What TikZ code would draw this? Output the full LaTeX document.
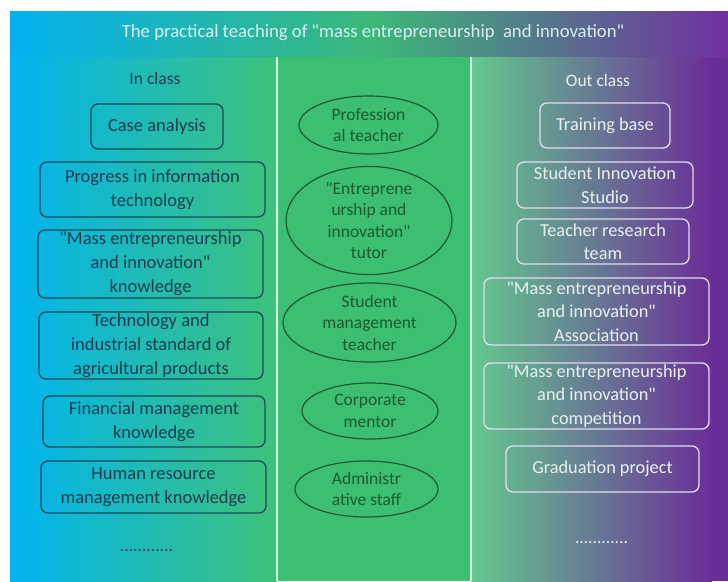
\documentclass[tikz,border=0pt]{standalone}
\usepackage{fontspec}
\setmainfont{Carlito}[Ligatures=TeXOff]
\usetikzlibrary{shapes.geometric}

\definecolor{bandblue}{HTML}{00B2F0}
\definecolor{bandgreen}{HTML}{3CB878}
\definecolor{bandpurple}{HTML}{7030A0}
\definecolor{colblue}{HTML}{00B4F0}
\definecolor{colgreen}{HTML}{3EC27A}
\definecolor{midgreen}{HTML}{3CBF72}
\definecolor{rgreen}{HTML}{64C98E}
\definecolor{rpurple}{HTML}{6A2D98}
\definecolor{divline}{HTML}{DDF5E6}
\definecolor{intext}{HTML}{1C3D50}
\definecolor{inborder}{HTML}{1F4858}
\definecolor{elltext}{HTML}{1E5A2C}
\definecolor{outtext}{HTML}{E8F0F2}
\definecolor{outborder}{HTML}{E2DCF0}
\definecolor{titletxt}{HTML}{D8EEF2}

\tikzset{
  headtext/.style={font=\fontsize{17.5}{21}\selectfont, inner sep=0pt},
  dotrow/.style={font=\fontsize{17.5}{21}\selectfont, inner sep=0pt, anchor=base},
  inbox/.style={draw=inborder, line width=1.3pt, rounded corners=7pt,
    text=intext, font=\fontsize{18.5}{24}\selectfont, align=center, inner sep=0pt},
  outbox/.style={draw=outborder, line width=1.3pt, rounded corners=7pt,
    text=outtext, font=\fontsize{18.3}{23.5}\selectfont, align=center, inner sep=0pt},
  rolebox/.style={ellipse, draw=elltext, line width=1.2pt,
    text=elltext, font=\fontsize{17.5}{21.5}\selectfont, align=center, inner sep=0pt},
}

\begin{document}
\begin{tikzpicture}[x=1pt,y=-1pt]
\useasboundingbox (0,0) rectangle (728,581);
\fill[white] (0,0) rectangle (728,581);

% title band
\shade[left color=bandblue, right color=bandgreen] (10,11) rectangle (372,57);
\shade[left color=bandgreen, right color=bandpurple] (371.5,11) rectangle (728,57);

% three columns
\shade[left color=colblue, right color=colgreen] (10,57) rectangle (277,581);
\fill[midgreen] (277,57) rectangle (471,581);
\shade[left color=rgreen, right color=rpurple] (471,57) rectangle (712,581);
\fill[rpurple] (711.5,57) rectangle (728,581);
\draw[divline, line width=1.8pt] (277,57) -- (277,581);
\draw[divline, line width=1.8pt] (471,57) -- (471,581);

\node[headtext, text=titletxt, font=\fontsize{18.7}{22}\selectfont] (title) at (373,33)
  {The practical teaching of "mass entrepreneurship~ and innovation"};

% in class
\node[headtext, text=intext] (inclass) at (155,78) {In class};
\node[inbox, minimum width=132, minimum height=45] (case) at (157,126.5) {Case analysis};
\node[inbox, minimum width=225, minimum height=55] (prog) at (152.5,189.5) {Progress in information\\technology};
\node[inbox, minimum width=225, minimum height=68] (massk) at (150.5,264) {"Mass entrepreneurship\\and innovation"\\knowledge};
\node[inbox, minimum width=224, minimum height=67] (tech) at (151,345.5) {Technology and\\industrial standard of\\agricultural products};
\node[inbox, minimum width=222, minimum height=51] (fin) at (154,421.5) {Financial management\\knowledge};
\node[inbox, minimum width=225, minimum height=52] (hr) at (153.5,487) {Human resource\\management knowledge};
\node[dotrow, text=intext] (indots) at (146.5,551) {............};

% roles
\node[rolebox, minimum width=139, minimum height=58] (prof) at (368.5,125) {Profession\\al teacher};
\node[rolebox, minimum width=166, minimum height=95] (tutor) at (369,220.5) {"Entreprene\\urship and\\innovation"\\tutor};
\node[rolebox, minimum width=173, minimum height=79] (stud) at (369.5,322.5) {Student\\management\\teacher};
\node[rolebox, minimum width=136, minimum height=56] (corp) at (370,411) {Corporate\\mentor};
\node[rolebox, minimum width=143, minimum height=56] (adm) at (366.5,489) {Administr\\ative staff};

% out class
\node[headtext, text=outtext] (outclass) at (598,80) {Out class};
\node[outbox, minimum width=130, minimum height=45] (train) at (605,125.5) {Training base};
\node[outbox, minimum width=176, minimum height=46] (studio) at (605,185) {Student Innovation\\Studio};
\node[outbox, minimum width=172, minimum height=45] (team) at (603,241.5) {Teacher research\\team};
\node[outbox, minimum width=225, minimum height=67] (assoc) at (596.5,311.5) {"Mass entrepreneurship\\and innovation"\\Association};
\node[outbox, minimum width=225, minimum height=66] (comp) at (596.5,396) {"Mass entrepreneurship\\and innovation"\\competition};
\node[outbox, minimum width=193, minimum height=46] (grad) at (602.5,469) {Graduation project};
\node[dotrow, text=outtext] (outdots) at (601.5,543) {............};
\end{tikzpicture}
\end{document}
